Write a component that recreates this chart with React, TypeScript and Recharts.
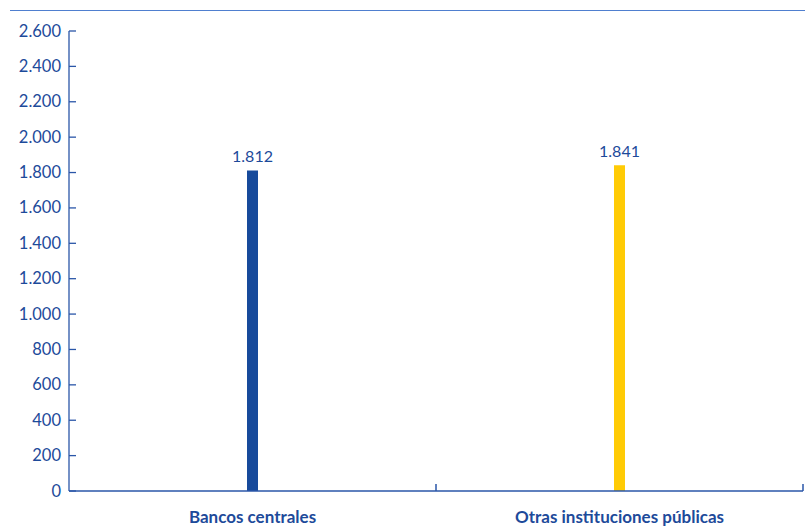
import { BarChart, Bar, XAxis, YAxis, LabelList, Cell } from "recharts"

const categories = ["Bancos centrales", "Otras instituciones públicas"]
const values = [1812, 1841]
const barColors = ["#174a9b", "#ffcb05"]
const yTicks = [0, 200, 400, 600, 800, 1000, 1200, 1400, 1600, 1800, 2000, 2200, 2400, 2600]

const data = categories.map((name, i) => ({ name, value: values[i] }))

const W = 797
const H = 520
const YW = 61
const RIGHT = 2
const TEXT = "#1d4a9a"
const AXIS = "#2a56a8"
const FONT = "Lato, 'Open Sans', sans-serif"

const halfBand = (W - YW - RIGHT) / categories.length / 2

const fmt = (v: number) => String(v).replace(/\B(?=(\d{3})+(?!\d))/g, ".")

function YTick(props: any) {
  const { x, y, payload } = props
  return (
    <g>
      <line x1={x + 8} x2={x + 15} y1={y} y2={y} stroke={AXIS} strokeWidth={1.3} />
      <text x={x} y={y} dy={5.5} textAnchor="end" fill={TEXT} fontSize={16.5} fontFamily={FONT}>
        {fmt(payload.value)}
      </text>
    </g>
  )
}

function XTick(props: any) {
  const { x, y, payload } = props
  return (
    <g>
      <line x1={x + halfBand} x2={x + halfBand} y1={y} y2={y - 7} stroke={AXIS} strokeWidth={1.5} />
      <text x={x} y={y} dy={32} textAnchor="middle" fill={TEXT} fontSize={17} fontWeight={700} fontFamily={FONT}>
        {payload.value}
      </text>
    </g>
  )
}

export default function App() {
  return (
    <div style={{ position: "absolute", left: 8, top: 8, width: W, height: H }}>
      <div style={{ position: "absolute", left: 2, top: 2, width: W - 2, height: 1, background: "#4f7fcf" }} />
      <BarChart width={W} height={H} data={data} margin={{ top: 23, right: RIGHT, left: 0, bottom: 0 }}>
        <XAxis
          dataKey="name"
          height={37}
          tickSize={0}
          tickMargin={0}
          tick={<XTick />}
          axisLine={{ stroke: AXIS, strokeWidth: 1.3 }}
          interval={0}
        />
        <YAxis
          width={YW}
          domain={[0, 2600]}
          ticks={yTicks}
          interval={0}
          tickSize={0}
          tickMargin={8}
          tick={<YTick />}
          axisLine={{ stroke: AXIS, strokeWidth: 1.3 }}
        />
        <Bar dataKey="value" barSize={11} isAnimationActive={false}>
          {data.map((d, i) => (
            <Cell key={d.name} fill={barColors[i]} />
          ))}
          <LabelList
            dataKey="value"
            position="top"
            offset={8}
            formatter={(v: any) => fmt(v)}
            fill={TEXT}
            fontSize={16}
            fontFamily={FONT}
          />
        </Bar>
      </BarChart>
    </div>
  )
}
